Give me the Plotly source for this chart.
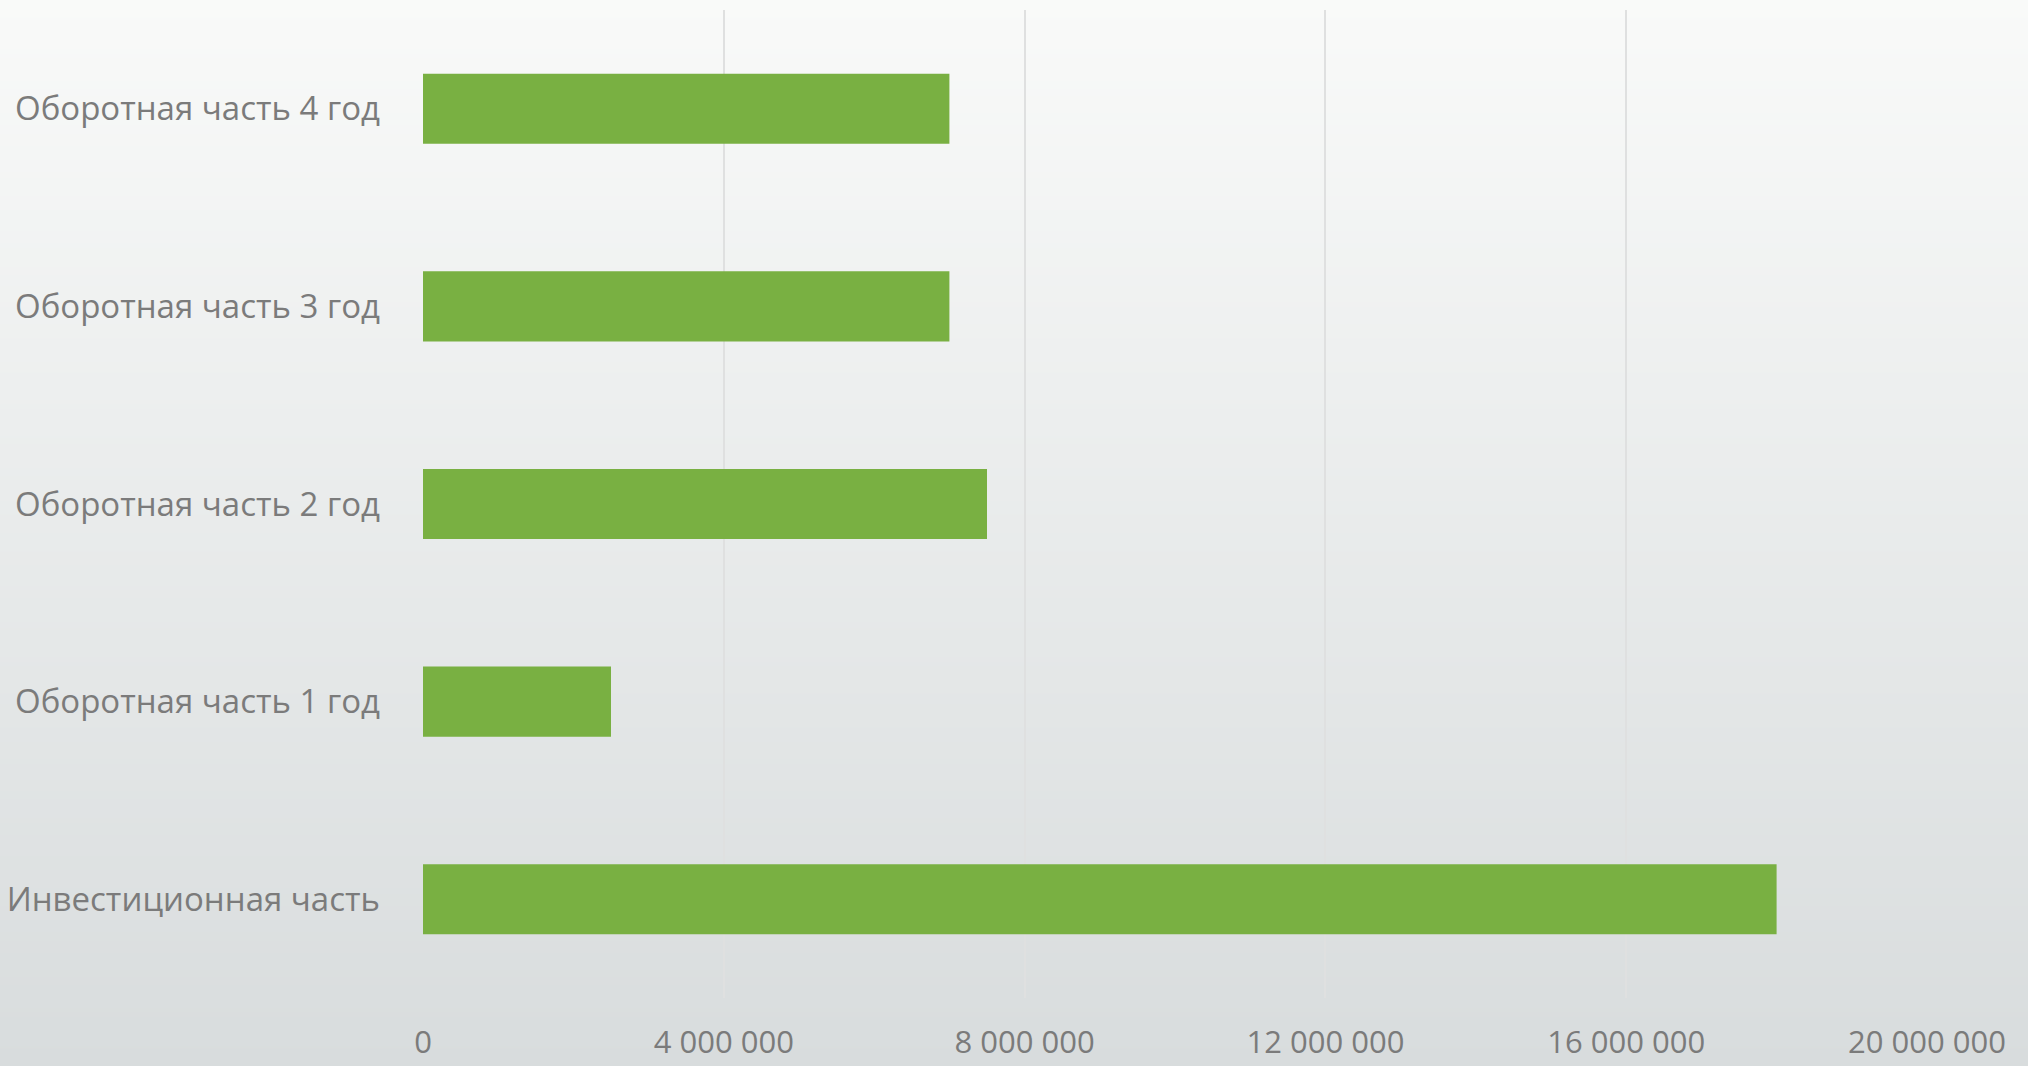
import base64
import struct
import zlib

import plotly.graph_objects as go

# ---- data ----
categories = [
    "Инвестиционная часть",
    "Оборотная часть 1 год",
    "Оборотная часть 2 год",
    "Оборотная часть 3 год",
    "Оборотная часть 4 год",
]
values = [18000000, 2500000, 7500000, 7000000, 7000000]
tick_values = [0, 4000000, 8000000, 12000000, 16000000, 20000000]
tick_labels = ["0", "4 000 000", "8 000 000", "12 000 000", "16 000 000", "20 000 000"]

W, H = 2028, 1066
ML, MR, MT, MB = 423, 101, 10, 68
PW, PH = W - ML - MR, H - MT - MB


# ---- vertical gradient background as an inline PNG ----
def gradient_png(height, top, bottom):
    rows = b""
    for i in range(height):
        t = i / (height - 1)
        px = bytes(int(round(top[k] + (bottom[k] - top[k]) * t)) for k in range(3))
        rows += b"\x00" + px

    def chunk(tag, data):
        c = struct.pack(">I", len(data)) + tag + data
        return c + struct.pack(">I", zlib.crc32(tag + data) & 0xFFFFFFFF)

    png = b"\x89PNG\r\n\x1a\n"
    png += chunk(b"IHDR", struct.pack(">IIBBBBB", 1, height, 8, 2, 0, 0, 0))
    png += chunk(b"IDAT", zlib.compress(rows, 9))
    png += chunk(b"IEND", b"")
    return "data:image/png;base64," + base64.b64encode(png).decode()


bg = gradient_png(H, (249, 250, 249), (216, 220, 221))

font_family = "Open Sans, Lato, sans-serif"
text_color = "#7b7b7b"

fig = go.Figure(
    go.Bar(
        x=values,
        y=categories,
        orientation="h",
        marker=dict(color="#79b042", line=dict(width=0)),
        width=0.355,
        hoverinfo="x+y",
    )
)

fig.update_layout(
    width=W,
    height=H,
    autosize=False,
    margin=dict(l=ML, r=MR, t=MT, b=MB, autoexpand=False),
    paper_bgcolor="#e6e8e8",
    plot_bgcolor="rgba(0,0,0,0)",
    showlegend=False,
    font=dict(family=font_family, color=text_color, size=31),
    images=[
        dict(
            source=bg,
            xref="paper",
            yref="paper",
            x=-ML / PW,
            y=1 + MT / PH,
            sizex=W / PW,
            sizey=H / PH,
            xanchor="left",
            yanchor="top",
            sizing="stretch",
            layer="below",
        )
    ],
)

fig.update_xaxes(
    range=[0, 20000000],
    tickvals=tick_values,
    ticktext=tick_labels,
    showgrid=True,
    gridcolor="#dfe0e0",
    gridwidth=2,
    zeroline=False,
    showline=False,
    ticks="",
    ticklabelstandoff=23,
    tickfont=dict(size=31, color=text_color),
    automargin=False,
    fixedrange=True,
)
fig.update_yaxes(
    categoryorder="array",
    categoryarray=categories,
    range=[-0.5, 4.5],
    showgrid=False,
    zeroline=False,
    showline=False,
    ticks="",
    ticklabelstandoff=42,
    tickfont=dict(size=33, color=text_color),
    automargin=False,
    fixedrange=True,
)

fig.write_html(
    "out.html",
    config={"displayModeBar": False, "responsive": False},
    post_script="document.body.style.margin='0';document.body.style.overflow='hidden';",
)
